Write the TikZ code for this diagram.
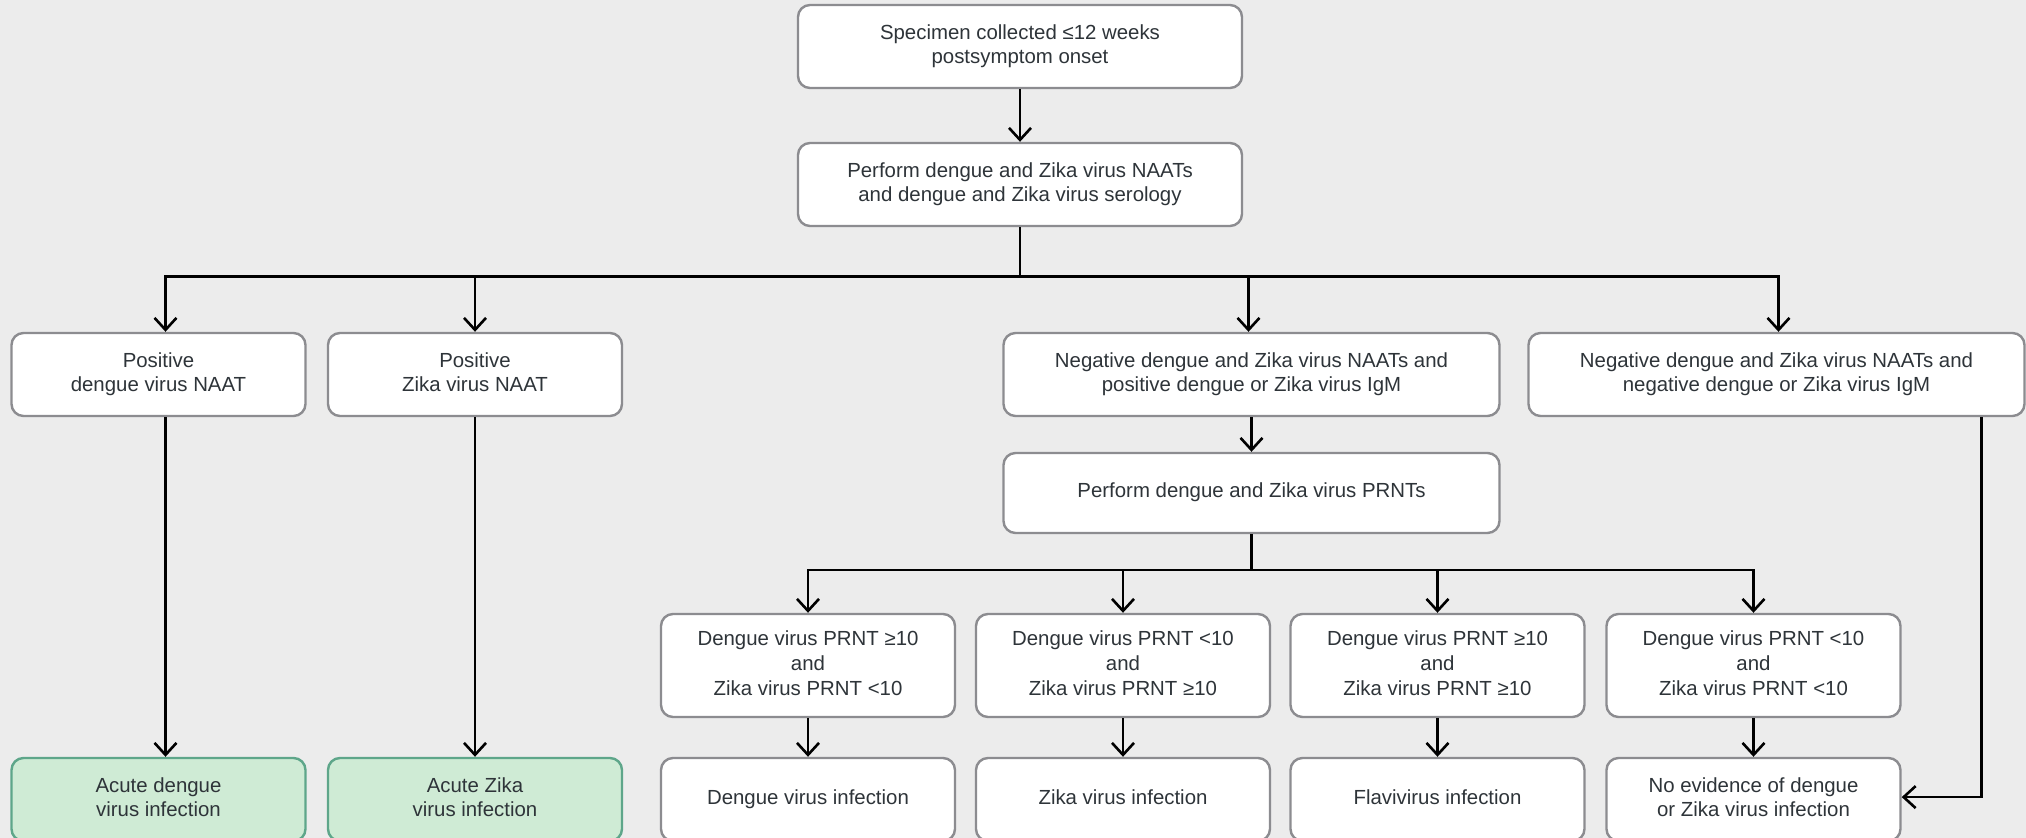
\documentclass[tikz,border=0pt]{standalone}
\usepackage{fontspec}
\setmainfont{Liberation Sans}
\usetikzlibrary{arrows.meta,calc}
\definecolor{bg}{HTML}{ECECEC}
\definecolor{bord}{HTML}{8C8C90}
\definecolor{txt}{HTML}{2E3439}
\definecolor{gfill}{HTML}{CFEBD5}
\definecolor{gbord}{HTML}{5EA68A}
\newcommand\boxstrut{\rule[-2.4pt]{0pt}{12pt}}
\begin{document}
\begin{tikzpicture}[x=0.5pt,y=-0.5pt,
  box/.style={draw=bord, line width=1.2pt, fill=white, rounded corners=6pt, align=center,
    text=txt, font=\fontsize{10.2}{12.4}\selectfont, inner sep=0pt,
    execute at begin node=\boxstrut, execute at end node=\boxstrut},
  single/.style={execute at begin node={\def\boxstrut{\strut}}},
  gbox/.style={box, draw=gbord, fill=gfill},
  wA/.style={minimum width=147pt},
  wC/.style={minimum width=248pt},
  h2/.style={minimum height=41.5pt},
  h3/.style={minimum height=51.5pt},
  arr/.style={line width=1.3pt, -{Straight Barb[length=6pt,width=11pt]}},
  ln/.style={line width=1.3pt}]
\useasboundingbox (0,0) rectangle (2026,838);
\fill[bg] (0,0) rectangle (2026,838);
\begin{scope}
\clip (0,0) rectangle (2026,838);
% top
\node[box, minimum width=222pt, h2] (s1) at (1020,46.5) {Specimen collected ≤12 weeks\\postsymptom onset};
\node[box, minimum width=222pt, h2] (s2) at (1020,184.5) {Perform dengue and Zika virus NAATs\\and dengue and Zika virus serology};
% row 2
\node[box, wA, h2] (pa) at (158.5,374.5) {Positive\\dengue virus NAAT};
\node[box, wA, h2] (pb) at (475,374.5) {Positive\\Zika virus NAAT};
\node[box, wC, h2] (pc) at (1251.5,374.5) {Negative dengue and Zika virus NAATs and\\positive dengue or Zika virus IgM};
\node[box, wC, h2] (pd) at (1776.5,374.5) {Negative dengue and Zika virus NAATs and\\negative dengue or Zika virus IgM};
% PRNT
\node[single, box, wC, minimum height=40pt] (pr) at (1251.5,493) {Perform dengue and Zika virus PRNTs};
% row 4
\node[box, wA, h3] (re) at (808,665.5) {Dengue virus PRNT ≥10\\and\\Zika virus PRNT <10};
\node[box, wA, h3] (rf) at (1123,665.5) {Dengue virus PRNT <10\\and\\Zika virus PRNT ≥10};
\node[box, wA, h3] (rg) at (1437.5,665.5) {Dengue virus PRNT ≥10\\and\\Zika virus PRNT ≥10};
\node[box, wA, h3] (rh) at (1753.5,665.5) {Dengue virus PRNT <10\\and\\Zika virus PRNT <10};
% bottom row
\node[gbox, wA, h2] (fa) at (158.5,799.5) {Acute dengue\\virus infection};
\node[gbox, wA, h2] (fb) at (475,799.5) {Acute Zika\\virus infection};
\node[single, box, wA, h2] (fe) at (808,799.5) {Dengue virus infection};
\node[single, box, wA, h2] (ff) at (1123,799.5) {Zika virus infection};
\node[single, box, wA, h2] (fg) at (1437.5,799.5) {Flavivirus infection};
\node[box, wA, h2] (fh) at (1753.5,799.5) {No evidence of dengue\\or Zika virus infection};
% connectors
\coordinate (b1) at (1020,276.5);
\coordinate (b2) at (1251.5,570);
\draw[arr] (s1) -- (s2);
\draw[ln] (s2.south) -- (b1);
\draw[arr] (b1) -| ([xshift=3.5pt]pa.north);
\draw[arr] (b1) -| (pb.north);
\draw[arr] (b1) -| ([xshift=-1.5pt]pc.north);
\draw[arr] (b1) -| ([xshift=1pt]pd.north);
\draw[arr] (pc) -- (pr);
\draw[ln] (pr.south) -- (b2);
\draw[arr] (b2) -| (re.north);
\draw[arr] (b2) -| (rf.north);
\draw[arr] (b2) -| (rg.north);
\draw[arr] (b2) -| (rh.north);
\draw[arr] ([xshift=3.5pt]pa.south) -- ([xshift=3.5pt]fa.north);
\draw[arr] (pb) -- (fb);
\draw[arr] (re) -- (fe);
\draw[arr] (rf) -- (ff);
\draw[arr] (rg) -- (fg);
\draw[arr] (rh) -- (fh);
\draw[arr] ([xshift=-22pt]pd.south east) |- ([yshift=1.2pt]fh.east);
\end{scope}
\end{tikzpicture}
\end{document}
